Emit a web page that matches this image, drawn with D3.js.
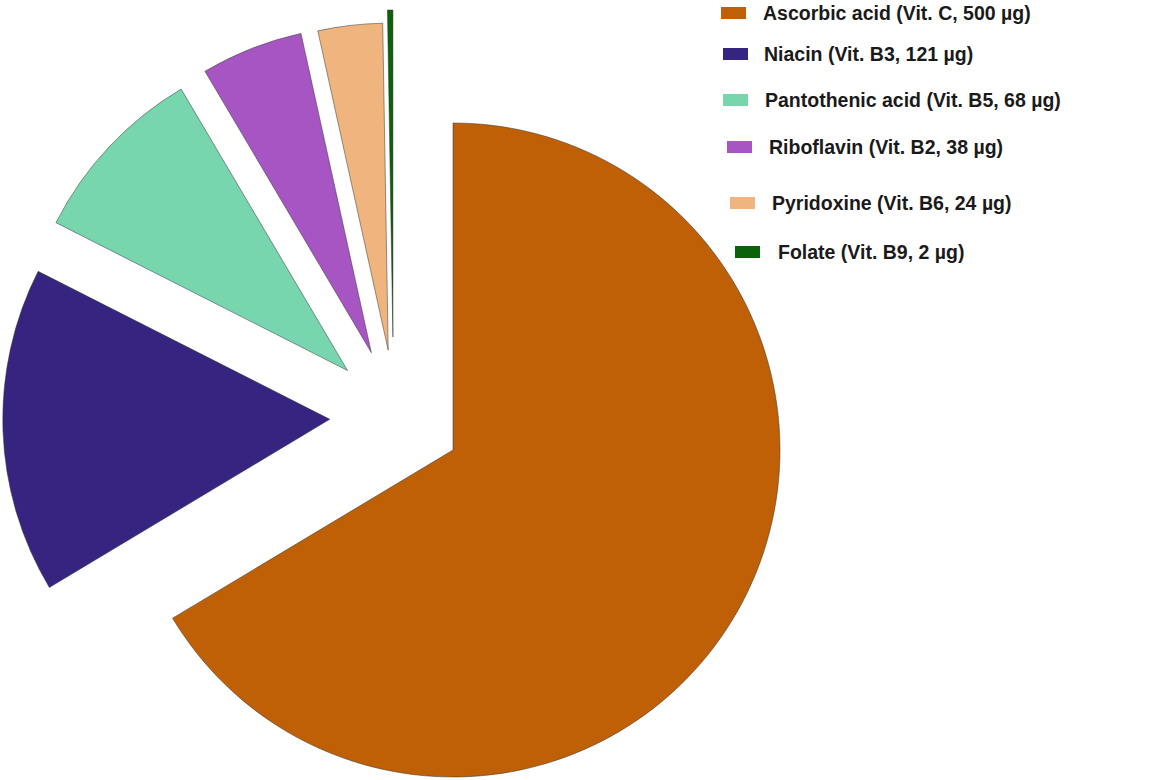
<!DOCTYPE html>
<html><head><meta charset="utf-8">
<script src="https://cdn.jsdelivr.net/npm/d3@7/dist/d3.min.js"></script>
<style>body{margin:0;background:#fff}</style></head>
<body><svg id="c" width="1150" height="780"></svg>
<script>
const categories = ["Ascorbic acid (Vit. C, 500 µg)","Niacin (Vit. B3, 121 µg)","Pantothenic acid (Vit. B5, 68 µg)","Riboflavin (Vit. B2, 38 µg)","Pyridoxine (Vit. B6, 24 µg)","Folate (Vit. B9, 2 µg)"];
const values = [500,121,68,38,24,2];
const colors = ["#BF5F06","#362480","#77D6AE","#A655C2","#F0B47E","#0B620B"];

// layout: explode distance and direction (degrees clockwise from top)
const explodeDist = [0,127,132,127,119,128];
const explodeDir = [0,284,307,320,327,332];

const svg = d3.select("#c");
const cx=453, cy=450, R=327;
const pie = d3.pie().sort(null).value(d=>d)(values);
const arc = d3.arc().innerRadius(0).outerRadius(R);
const g = svg.append("g").attr("transform",`translate(${cx},${cy})`);
g.selectAll("path").data(pie).join("path")
 .attr("d",arc)
 .attr("fill",(d,i)=>colors[i])
 .attr("stroke","#333").attr("stroke-width",0.5)
 .attr("transform",(d,i)=>{const a=explodeDir[i]*Math.PI/180;const o=explodeDist[i];return `translate(${Math.sin(a)*o},${-Math.cos(a)*o})`;});

const legY=[13,54,100,147,203,252], rectX=[721,723,723,727,730,735], textX=[763,764,765,769,772,778];
const lg = svg.append("g");
categories.forEach((c,i)=>{
  lg.append("rect").attr("x",rectX[i]).attr("y",legY[i]-6).attr("width",25).attr("height",12).attr("fill",colors[i]);
  lg.append("text").attr("x",textX[i]).attr("y",legY[i]+7).text(c)
   .attr("font-family","Liberation Sans, Arial, sans-serif").attr("font-size",19.5).attr("font-weight","bold").attr("fill","#1a1a1a");
});
</script></body></html>
